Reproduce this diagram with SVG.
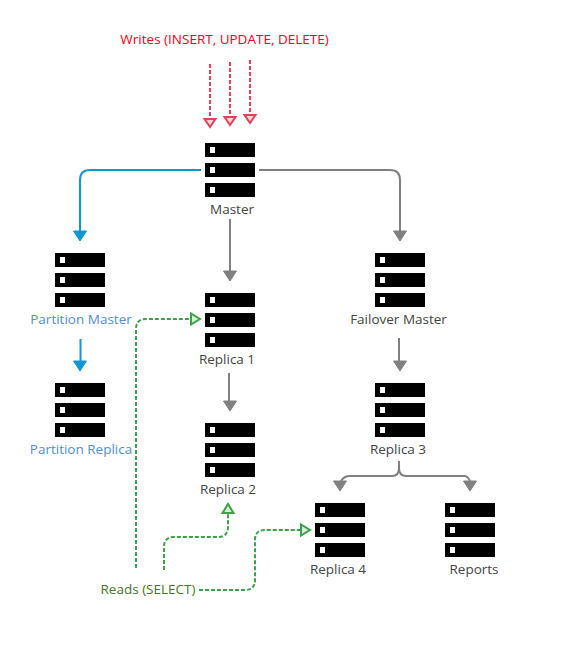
<svg xmlns="http://www.w3.org/2000/svg" width="580" height="646" viewBox="0 0 580 646">
<style>
text{font-family:"Open Sans","Noto Sans",sans-serif;font-size:13.5px;text-anchor:middle}
.n{fill:#444}.p{fill:#4f8fcc}.w{fill:#f00020}.r{fill:#45752a}
.c{fill:none;stroke-width:2}
.g{stroke:#808080}.b{stroke:#0f97d3}
.d{stroke:#e0405a;stroke-dasharray:4 2}.e{stroke:#3f9f4a;stroke-dasharray:4 2}
.ta{fill:#808080;stroke:#808080}.tb{fill:#0f97d3;stroke:#0f97d3}
.tr{fill:#fbd5da;stroke:#e0405a;stroke-width:2}.tg{fill:#d5efd8;stroke:#3f9f4a;stroke-width:2}
</style>
<defs>
<g id="srv">
<rect x="0" y="0" width="50" height="14"/><rect x="0" y="20" width="50" height="14"/><rect x="0" y="40" width="50" height="14"/>
<rect x="5" y="4" width="5" height="6" fill="#fff"/><rect x="5" y="24" width="5" height="6" fill="#fff"/><rect x="5" y="44" width="5" height="6" fill="#fff"/>
</g>
<path id="tipD" d="M-6.500 0H6.500L0 10Z"/>
<path id="tipR" d="M-5.500 0H5.500L0 8Z"/>
</defs>
<g id="connectors">
<path class="c b" d="M201 170H90Q80 170 80 180V231"/>
<path class="c b" d="M80.500 339V361"/>
<path class="c g" d="M259 170H390Q400 170 400 180V231"/>
<path class="c g" d="M230 219V271"/>
<path class="c g" d="M229 373V401"/>
<path class="c g" d="M399 338V361"/>
<path class="c g" d="M399 461V468Q399 476 392 476H350Q344 476 341 481"/>
<path class="c g" d="M399 468Q399 476 406 476H464Q468 476 470 481"/>
<path class="c d" d="M210 64V118"/><path class="c d" d="M230 62V116"/><path class="c d" d="M250 60V114"/>
<path class="c e" d="M136 568V329Q136 319 146 319H191"/>
<path class="c e" d="M164 570V547Q164 537 174 537H218Q228 537 228 527V513"/>
<path class="c e" d="M199 590H245Q255 590 255 580V540Q255 530 265 530H301"/>
<use href="#tipD" x="80" y="231" class="tb"/><use href="#tipD" x="80" y="361" class="tb"/>
<use href="#tipD" x="400" y="231" class="ta"/><use href="#tipD" x="230" y="271" class="ta"/><use href="#tipD" x="230" y="401" class="ta"/><use href="#tipD" x="400" y="361" class="ta"/><use href="#tipD" x="340" y="481" class="ta"/><use href="#tipD" x="470" y="481" class="ta"/>
<use href="#tipR" x="210" y="119" class="tr"/><use href="#tipR" x="230" y="117" class="tr"/><use href="#tipR" x="250" y="115" class="tr"/>
<path class="tg" d="M191 313.500V324.500L200 319Z"/>
<path class="tg" d="M222.500 513H233.500L228 504Z"/>
<path class="tg" d="M301 524.500V535.500L310 530Z"/>
</g>
<text class="w" x="224.500" y="44">Writes (INSERT, UPDATE, DELETE)</text>
<text class="r" x="148" y="594">Reads (SELECT)</text>
<g id="master"><use href="#srv" x="205" y="143"/><text class="n" x="232" y="214">Master</text></g>
<g id="partition-master"><use href="#srv" x="55" y="253"/><text class="p" x="81" y="324">Partition Master</text></g>
<g id="failover-master"><use href="#srv" x="375" y="253"/><text class="n" x="398.500" y="324">Failover Master</text></g>
<g id="replica-1"><use href="#srv" x="205" y="293"/><text class="n" x="227" y="364">Replica 1</text></g>
<g id="partition-replica"><use href="#srv" x="55" y="383"/><text class="p" x="81" y="454">Partition Replica</text></g>
<g id="replica-2"><use href="#srv" x="205" y="423"/><text class="n" x="228" y="494">Replica 2</text></g>
<g id="replica-3"><use href="#srv" x="375" y="383"/><text class="n" x="398" y="454">Replica 3</text></g>
<g id="replica-4"><use href="#srv" x="315" y="503"/><text class="n" x="338" y="574">Replica 4</text></g>
<g id="reports"><use href="#srv" x="445" y="503"/><text class="n" x="474" y="574">Reports</text></g>
</svg>
